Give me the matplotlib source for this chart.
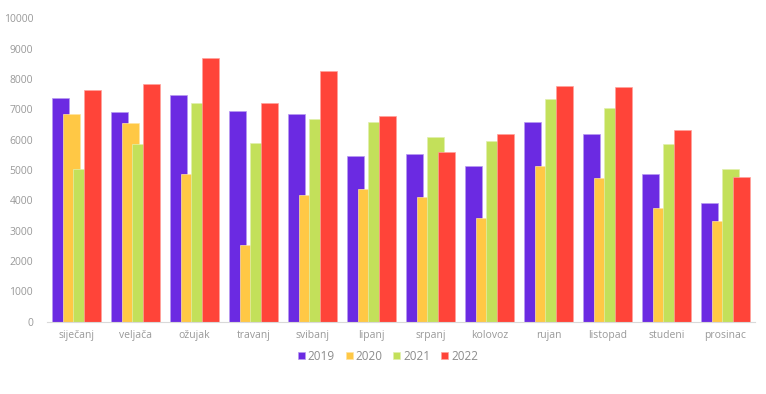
import matplotlib
matplotlib.use("Agg")
import matplotlib.pyplot as plt
import numpy as np

months = ["siječanj", "veljača", "ožujak", "travanj", "svibanj", "lipanj",
          "srpanj", "kolovoz", "rujan", "listopad", "studeni", "prosinac"]
years = ["2019", "2020", "2021", "2022"]
v2019 = [7380, 6900, 7470, 6940, 6860, 5450, 5530, 5120, 6580, 6190, 4860, 3900]
v2020 = [6860, 6560, 4860, 2530, 4180, 4360, 4090, 3400, 5130, 4740, 3740, 3330]
v2021 = [5030, 5860, 7210, 5880, 6690, 6580, 6080, 5950, 7340, 7040, 5850, 5020]
v2022 = [7630, 7830, 8680, 7210, 8270, 6770, 5580, 6180, 7760, 7750, 6310, 4770]
series = [v2019, v2020, v2021, v2022]
colors = ["#6B2AE2", "#FFC845", "#C3E05A", "#FF4439"]
edges = ["#B89AF0", "#FFE3A0", "#E0F0AC", "#FFA29C"]

plt.rcParams['font.family'] = ['Open Sans', 'DejaVu Sans']
fig = plt.figure(figsize=(7.66, 3.94), dpi=100)
ax = fig.add_axes([47/766, 1-321.5/394, 708/766, (321.5-18.3)/394])

x = np.arange(len(months))
offsets = [-0.27, -0.09, 0.09, 0.27]
width = 0.29
for vals, off, c, ec, lab in zip(series, offsets, colors, edges, years):
    ax.bar(x + off, vals, width=width, color=c, edgecolor=ec, linewidth=0.5, label=lab)

ax.set_xlim(-0.5, 11.5)
ax.set_ylim(0, 10000)
ax.set_yticks(np.arange(0, 10001, 1000))
ax.set_xticks(x)
ax.set_xticklabels(months)
for s in ["top", "right", "left"]:
    ax.spines[s].set_visible(False)
ax.spines["bottom"].set_color("#d9d9d9")
ax.tick_params(axis="both", length=0, colors="#999999", labelsize=7.5)
ax.tick_params(axis="x", pad=6)
ax.tick_params(axis="y", pad=10)

leg = fig.legend(loc="center", bbox_to_anchor=(388/766, 1-356/394), ncol=4, frameon=False,
                 fontsize=8.5, handlelength=0.6, handleheight=0.6, handletextpad=0.25,
                 columnspacing=0.9, labelcolor="#8c8c8c")
fig.savefig("out.png", dpi=100)
